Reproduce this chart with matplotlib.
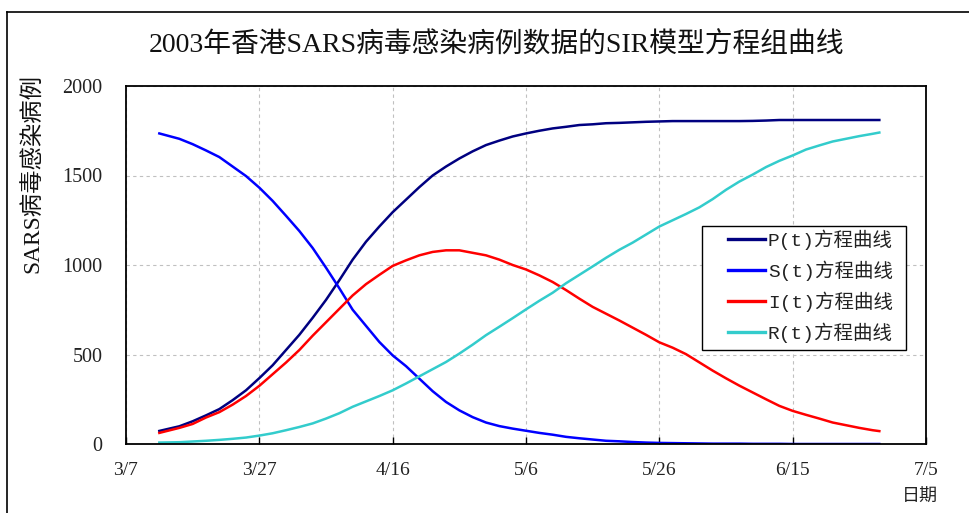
import matplotlib
matplotlib.use("Agg")
import matplotlib.pyplot as plt
from matplotlib.lines import Line2D
from matplotlib.patches import Rectangle

# Days counted from March 7, 2003
days = [5, 8, 10, 12, 14, 16, 18, 20, 22, 24, 26, 28, 30, 32, 34, 36, 38, 40,
        42, 44, 46, 48, 50, 52, 54, 56, 58, 60, 62, 64, 66, 68, 70, 72, 74, 76,
        78, 80, 82, 84, 86, 88, 90, 92, 94, 96, 98, 100, 102, 104, 106, 108,
        110, 112, 113]

p_curve = [73, 99, 127, 160, 195, 245, 300, 368, 440, 525, 610, 705, 805, 915,
           1030, 1130, 1215, 1295, 1365, 1435, 1500, 1550, 1595, 1635, 1670,
           1695, 1718, 1735, 1750, 1763, 1772, 1782, 1786, 1792, 1794, 1797,
           1800, 1802, 1804, 1804, 1804, 1804, 1804, 1804, 1805, 1807, 1810,
           1810, 1810, 1810, 1810, 1810, 1810, 1810, 1810]

s_curve = [1735, 1705, 1675, 1640, 1603, 1550, 1497, 1432, 1358, 1275, 1190,
           1095, 985, 870, 750, 660, 570, 495, 435, 365, 295, 235, 188, 150,
           120, 100, 86, 74, 62, 52, 40, 32, 25, 18, 15, 11, 8, 6, 5, 4, 3, 2,
           2, 2, 1, 1, 1, 0, 0, 0, 0, 0, 0, 0, 0]

i_curve = [62, 90, 112, 148, 178, 220, 268, 325, 390, 455, 525, 605, 680, 755,
           830, 893, 945, 995, 1026, 1054, 1073, 1082, 1082, 1068, 1054, 1030,
           1000, 975, 942, 905, 860, 812, 766, 728, 690, 650, 610, 568, 538,
           502, 456, 410, 367, 326, 288, 250, 213, 185, 163, 142, 120, 105, 90,
           77, 72]

r_curve = [8, 10, 14, 18, 23, 29, 36, 47, 60, 77, 95, 115, 142, 172, 208, 238,
           268, 300, 338, 378, 418, 458, 505, 555, 608, 655, 703, 752, 800, 845,
           898, 945, 992, 1040, 1085, 1125, 1170, 1215, 1250, 1285, 1322, 1368,
           1420, 1466, 1505, 1547, 1582, 1612, 1645, 1668, 1690, 1705, 1720,
           1733, 1740]

x_ticks = [0, 20, 40, 60, 80, 100, 120]
x_tick_labels = ["3/7", "3/27", "4/16", "5/6", "5/26", "6/15", "7/5"]
y_ticks = [0, 500, 1000, 1500, 2000]

series_labels = ["P(t)方程曲线", "S(t)方程曲线", "I(t)方程曲线", "R(t)方程曲线"]
series_colors = ["#000080", "#0000FF", "#FF0000", "#33CCCC"]

title_text = "2003年香港SARS病毒感染病例数据的SIR模型方程组曲线"
ylabel_text = "SARS病毒感染病例"
xlabel_text = "日期"

SERIF_CJK = ["Liberation Serif", "Noto Sans CJK SC"]
MONO_CJK = ["Liberation Mono", "Noto Sans CJK SC"]

W, H = 970, 513
fig = plt.figure(figsize=(W / 100, H / 100), dpi=100)
fig.patch.set_facecolor("white")

# outer frame of the chart area
fig.add_artist(Line2D([7 / W, 7 / W], [0, 1 - 12 / H], color="black", lw=1.2,
                      transform=fig.transFigure))
fig.add_artist(Line2D([7 / W, 1], [1 - 12 / H, 1 - 12 / H], color="black",
                      lw=1.2, transform=fig.transFigure))

left, right, top, bottom = 126, 926, 86, 444
ax = fig.add_axes([left / W, 1 - bottom / H, (right - left) / W,
                   (bottom - top) / H])

for vals, lab, col in zip([p_curve, s_curve, i_curve, r_curve], series_labels,
                          series_colors):
    ax.plot(days, vals, color=col, lw=1.8, label=lab, solid_joinstyle="round")

ax.set_xlim(0, 120)
ax.set_ylim(0, 2000)
ax.set_xticks(x_ticks)
ax.set_xticklabels(x_tick_labels)
ax.set_yticks(y_ticks)
ax.grid(True, color="#C0C0C0", lw=0.8, ls=(0, (3, 3)))
ax.set_axisbelow(True)

for sp in ax.spines.values():
    sp.set_linewidth(1.3)
    sp.set_color("black")

ax.tick_params(axis="x", direction="in", length=5, width=1, pad=13,
               labelsize=14)
ax.tick_params(axis="y", direction="in", length=0, pad=17, labelsize=14.5)
for t in ax.get_xticklabels() + ax.get_yticklabels():
    t.set_family(SERIF_CJK)
    t.set_color("#222222")

# legend box
ax.add_patch(Rectangle((0.72, 0.263), 0.255, 0.346, transform=ax.transAxes,
                       facecolor="white", edgecolor="black", lw=1.0,
                       zorder=5))
leg = ax.legend(loc="upper left", bbox_to_anchor=(0.7525, 0.60),
                frameon=False, borderpad=0, borderaxespad=0,
                handlelength=1.9, handletextpad=0.15, labelspacing=0.54,
                prop={"family": MONO_CJK, "size": 14})
leg.set_zorder(6)
for t in leg.get_texts():
    t.set_color("#222222")
for h in leg.legend_handles:
    h.set_linewidth(2.4)

fig.text(497 / W, 1 - 45 / H, title_text, ha="center", va="center",
         fontsize=20, family=SERIF_CJK, color="#111111")
fig.text(33 / W, 1 - 74 / H, ylabel_text, ha="center", va="top",
         rotation=90, fontsize=16.8, family=SERIF_CJK, color="#111111")
fig.text(938 / W, 1 - 497 / H, xlabel_text, ha="right", va="center",
         fontsize=13, family=SERIF_CJK, color="#222222")

fig.savefig("out.png", dpi=100)
